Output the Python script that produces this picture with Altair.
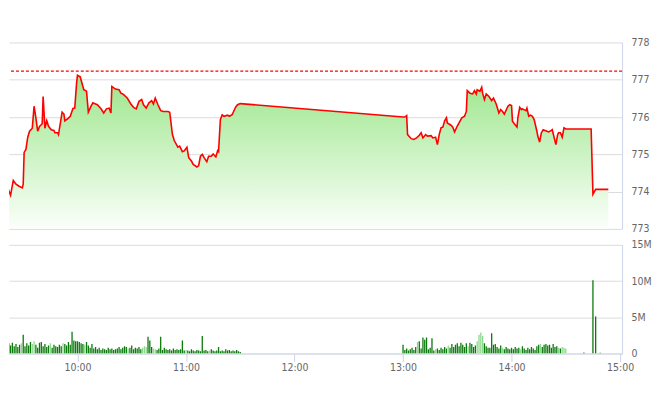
import altair as alt
import pandas as pd

DAY = "2024-01-02"

# ---------------- price (index level) ----------------
price_time = [
    "09:20", "09:21", "09:22", "09:23", "09:24:30", "09:26", "09:27:30", "09:29:30", "09:30", "09:30:30",
    "09:31:30", "09:32:30", "09:33:30", "09:35", "09:36", "09:37", "09:38", "09:39", "09:40:30", "09:41",
    "09:42", "09:43", "09:44", "09:45:30", "09:47", "09:47:30", "09:49", "09:49:30", "09:51:30", "09:52:30",
    "09:53", "09:54:30", "09:56", "09:57:30", "09:58:30", "09:59:30", "10:00", "10:01:30", "10:03", "10:03:30",
    "10:05", "10:06", "10:07:30", "10:08:30", "10:10", "10:11", "10:13", "10:14:30", "10:16", "10:17:30",
    "10:18:30", "10:19", "10:21", "10:23", "10:24", "10:25", "10:25:30", "10:27:30", "10:29:30", "10:31",
    "10:32:30", "10:34", "10:35:30", "10:36:30", "10:38", "10:39:30", "10:41", "10:42", "10:43", "10:44:30",
    "10:46", "10:47:30", "10:50", "10:51", "10:52:30", "10:53:30", "10:55:30", "10:56:30", "10:58", "10:59",
    "11:00:30", "11:01:30", "11:03", "11:04", "11:06", "11:07", "11:08", "11:09", "11:10", "11:11:30",
    "11:12:30", "11:14", "11:15", "11:16:30", "11:17:30", "11:18", "11:19", "11:20", "11:21", "11:23",
    "11:24", "11:25:30", "11:27:30", "11:28:30", "11:30",
    "13:00", "13:01", "13:02", "13:02:30", "13:04:30", "13:06", "13:07:30", "13:09", "13:10", "13:11",
    "13:12:30", "13:13:30", "13:15:30", "13:16:30", "13:18", "13:19", "13:20", "13:21", "13:22", "13:23",
    "13:24", "13:24:30", "13:26:30", "13:27:30", "13:28:30", "13:30", "13:31:30", "13:32:30", "13:34", "13:35",
    "13:35:30", "13:37", "13:38:30", "13:39:30", "13:40:30", "13:41", "13:42:30", "13:43:30", "13:44", "13:45",
    "13:46", "13:47:30", "13:49", "13:50", "13:51:30", "13:53", "13:54", "13:55", "13:56", "13:58",
    "13:59", "14:00", "14:00:30", "14:01:30", "14:03", "14:03:30", "14:04:30", "14:05:30", "14:06", "14:08",
    "14:08:30", "14:09:30", "14:10:30", "14:11:30", "14:12:30", "14:14", "14:14:30", "14:15:30", "14:16:30", "14:17:30",
    "14:19:30", "14:20:30", "14:22", "14:22:30", "14:24:30", "14:25:30", "14:26", "14:27", "14:28", "14:29",
    "14:30", "14:44", "14:45", "14:46:30", "14:53:30",
]
price_value = [
    774.00, 774.18, 774.03, 773.90, 774.30, 774.20, 774.15, 774.10, 774.20, 775.05,
    775.13, 775.46, 775.62, 775.70, 776.29, 775.98, 775.62, 775.75, 775.82, 776.55,
    775.70, 775.90, 775.75, 775.66, 775.64, 775.58, 775.58, 775.53, 776.13, 776.08,
    775.90, 775.95, 776.02, 776.23, 776.24, 776.91, 777.12, 777.08, 776.82, 776.73,
    776.69, 776.13, 776.29, 776.38, 776.35, 776.33, 776.22, 776.11, 776.22, 776.24,
    776.11, 776.82, 776.75, 776.73, 776.64, 776.62, 776.60, 776.51, 776.35, 776.26,
    776.22, 776.42, 776.47, 776.33, 776.24, 776.38, 776.44, 776.35, 776.51, 776.33,
    776.17, 776.15, 776.15, 776.13, 775.53, 775.37, 775.19, 775.22, 775.07, 775.09,
    775.19, 774.91, 774.82, 774.73, 774.66, 774.70, 774.95, 775.00, 774.91, 774.80,
    774.95, 774.95, 775.01, 774.93, 775.10, 775.07, 775.93, 776.06, 776.02, 776.05,
    776.02, 776.06, 776.27, 776.33, 776.36,
    776.00, 776.00, 776.04, 775.53, 775.42, 775.40, 775.44, 775.51, 775.58, 775.44,
    775.53, 775.49, 775.50, 775.44, 775.46, 775.26, 775.53, 775.71, 775.73, 775.90,
    775.98, 775.84, 775.78, 775.73, 775.60, 775.76, 775.89, 775.98, 776.02, 776.15,
    776.71, 776.64, 776.62, 776.71, 776.62, 776.73, 776.69, 776.80, 776.64, 776.47,
    776.62, 776.55, 776.44, 776.51, 776.35, 776.11, 776.20, 776.15, 776.08, 776.29,
    776.33, 776.31, 775.89, 775.82, 775.73, 775.98, 776.26, 776.20, 776.22, 776.17,
    776.24, 776.02, 776.05, 776.02, 775.93, 775.62, 775.49, 775.33, 775.58, 775.66,
    775.62, 775.60, 775.64, 775.66, 775.26, 775.53, 775.58, 775.58, 775.46, 775.71,
    775.68, 775.68, 773.93, 774.06, 774.06,
]
ref_price = 777.23  # previous close (dashed line)

# ---------------- volume (millions), one bar per minute ----------------
vol_am_start = "09:20"
vol_am = [
    1.6, 1.2, 1.4, 1.1, 1.5, 1.0, 1.3, 0.9, 1.2, 1.4,
    2.6, 1.0, 1.4, 1.1, 1.6, 1.3, 1.7, 1.2, 0.8, 1.5,
    1.6, 1.0, 1.3, 0.9, 1.1, 1.4, 0.8, 1.2, 1.0, 0.9,
    1.2, 1.0, 1.4, 1.3, 1.1, 1.6, 1.2, 3.0, 1.8, 1.7,
    1.7, 1.6, 1.4, 1.3, 1.2, 1.6, 1.1, 0.8, 1.3, 0.7,
    0.9, 0.6, 0.8, 0.5, 0.7, 0.6, 0.5, 0.8, 0.6, 0.7,
    0.5, 0.6, 0.7, 0.9, 0.6, 0.8, 1.0, 0.9, 0.7, 0.8,
    1.1, 0.6, 0.8, 0.7, 0.9, 0.6, 0.8, 1.0, 0.9, 2.3,
    1.8, 0.9, 0.7, 0.6, 0.5, 0.7, 2.3, 0.5, 0.8, 0.6,
    0.5, 0.6, 0.4, 0.7, 0.5, 0.6, 0.5, 0.6, 1.8, 0.4,
    0.5, 0.4, 0.3, 0.6, 0.4, 0.3, 0.5, 0.4, 0.3, 2.4,
    0.4, 0.5, 0.3, 0.4, 0.6, 0.4, 0.3, 0.4, 0.9, 0.3,
    0.4, 0.3, 0.6, 0.4, 0.5, 0.3, 0.4, 0.3, 0.5, 0.3, 0.2,
]
vol_pm_start = "13:00"
vol_pm = [
    1.2, 0.5, 0.7, 0.4, 0.6, 0.8, 0.5, 0.9, 1.6, 1.7,
    0.7, 2.2, 1.9, 2.2, 0.6, 0.8, 2.1, 0.4, 0.6, 0.7,
    0.5, 0.8, 0.6, 0.9, 0.7, 1.1, 0.8, 1.3, 0.9, 1.2,
    1.4, 1.0, 1.5, 1.2, 0.9, 1.4, 1.0, 1.5, 1.3, 0.9,
    1.1, 1.7, 2.6, 2.9, 2.4, 1.4, 1.0, 0.8, 0.8, 2.8,
    1.2, 1.3, 0.9, 0.7, 1.1, 0.8, 0.6, 0.9, 0.7, 0.6,
    0.8, 0.6, 0.9, 0.7, 0.8, 0.6, 1.0, 0.7, 0.5, 0.8,
    0.6, 0.9, 0.7, 0.5, 1.0, 1.2, 1.3, 0.9, 1.2, 1.3,
    1.1, 1.2, 0.8, 1.3, 0.9, 1.0, 0.8, 0.7, 0.9, 0.8, 0.7,
]
atc_time = ["14:40", "14:45", "14:46:30", "14:49"]
atc_vol = [0.15, 10.1, 5.1, 0.1]
light_bars = [
    "09:29", "09:35", "09:36", "09:45", "09:52", "10:04", "10:28", "10:36", "10:37", "10:38",
    "10:42", "10:43", "11:00", "11:13",
    "13:08", "13:18", "13:25", "13:36", "13:41", "13:42", "13:43", "13:44", "13:55", "14:05",
    "14:16", "14:26", "14:28", "14:29", "14:30",
]

hour_ticks = ["10:00", "11:00", "12:00", "13:00", "14:00", "15:00"]
price_ticks = [773, 774, 775, 776, 777, 778]
vol_ticks = [0, 5, 10, 15]
x_start, x_end = "09:22:08", "15:01:07"


def ts(s):
    return pd.Timestamp(f"{DAY} {s}")


def dt(s):
    t = ts(s)
    return alt.DateTime(year=t.year, month=t.month, date=t.day,
                        hours=t.hour, minutes=t.minute, seconds=t.second)


price_df = pd.DataFrame({"t": [ts(s) for s in price_time], "p": price_value})
ref_df = pd.DataFrame({"p": [ref_price]})

light_set = {ts(s) for s in light_bars}
vt, vv = [], []
for start, vals in ((vol_am_start, vol_am), (vol_pm_start, vol_pm)):
    for i, v in enumerate(vals):
        vt.append(ts(start) + pd.Timedelta(minutes=i))
        vv.append(v)
for s, v in zip(atc_time, atc_vol):
    vt.append(ts(s))
    vv.append(v)
vol_df = pd.DataFrame({"t": vt, "v": vv})
vol_df["c"] = ["light" if t in light_set else "dark" for t in vol_df["t"]]

FONT = "DejaVu Sans Condensed, Liberation Sans, sans-serif"
FS = 10.5
x_scale = alt.Scale(domain=[dt(x_start), dt(x_end)], nice=False, padding=0)
yax = dict(orient="right", ticks=False, labelPadding=9, labelColor="#666666",
           labelFontSize=FS, labelFont=FONT, domainColor="#ccd6eb",
           gridColor="#dcdcdc", title=None)

price_axis = alt.Axis(values=price_ticks, **yax)
price_scale = alt.Scale(domain=[773, 778], zero=False, nice=False)
y_price = alt.Y("p:Q", scale=price_scale, axis=price_axis)
x_top = alt.X("t:T", scale=x_scale, axis=None)

area = alt.Chart(price_df).mark_area(
    clip=True,
    color=alt.Gradient(gradient="linear", x1=0, x2=0, y1=0, y2=1,
                       stops=[alt.GradientStop(color="#9be68a", offset=0),
                              alt.GradientStop(color="#fbfffa", offset=1)]),
).encode(x=x_top, y=y_price, y2=alt.datum(773))

line = alt.Chart(price_df).mark_line(color="#ff0000", strokeWidth=1.6, clip=True).encode(
    x=x_top, y=y_price)

ref = alt.Chart(ref_df).mark_rule(color="#ff0000", strokeDash=[3, 2], strokeWidth=1.2).encode(
    y=y_price)

top = alt.layer(area, ref, line).properties(width=615, height=187)

bottom = alt.Chart(vol_df).mark_bar(size=1.3, clip=True).encode(
    x=alt.X("t:T", scale=x_scale,
            axis=alt.Axis(values=[dt(h) for h in hour_ticks], format="%H:%M", grid=False,
                          domainColor="#ccd6eb", tickColor="#ccd6eb", tickSize=8,
                          labelPadding=1, labelColor="#666666", labelFontSize=FS,
                          labelFont=FONT, labelFlush=False, title=None)),
    y=alt.Y("v:Q", scale=alt.Scale(domain=[0, 15], nice=False),
            axis=alt.Axis(values=vol_ticks,
                          labelExpr="datum.value == 0 ? '0' : datum.value + 'M'", **yax)),
    color=alt.Color("c:N", scale=alt.Scale(domain=["dark", "light"], range=["#0b7a0b", "#8ed88e"]),
                    legend=None),
).properties(width=615, height=109)

chart = alt.vconcat(top, bottom, spacing=16, bounds="flush").properties(
    padding={"top": 29, "left": 0, "right": 0, "bottom": 5}
).configure_view(stroke=None)

chart.save("out.html", embed_options={"renderer": "svg", "actions": False})
